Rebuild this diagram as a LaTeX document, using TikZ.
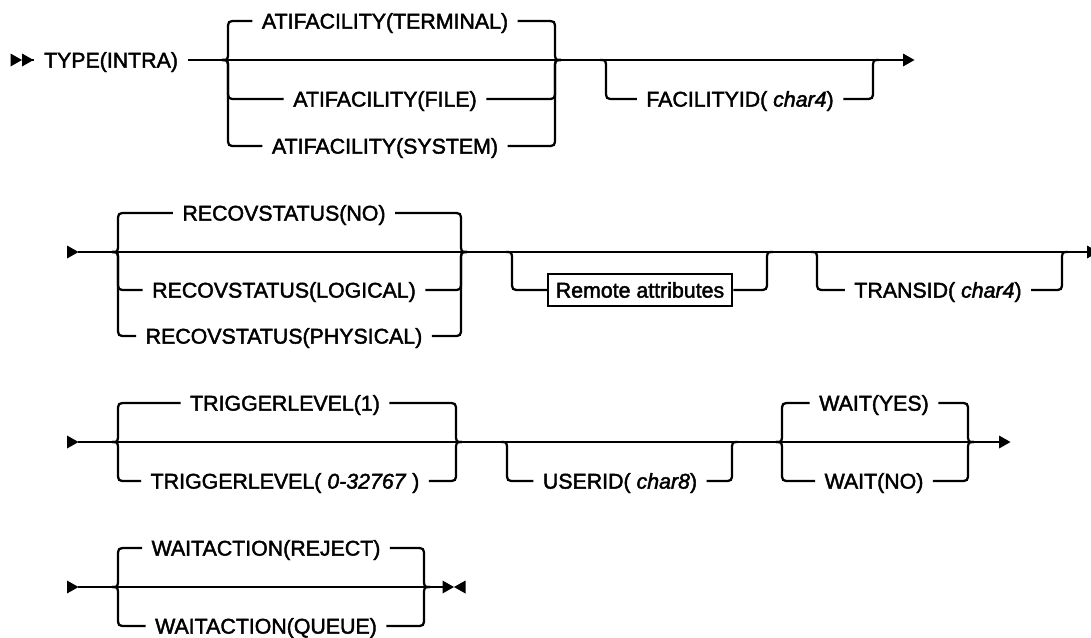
\documentclass[tikz,border=0pt]{standalone}
\usepackage{fontspec}
\setmainfont{Liberation Sans}[FakeBold=2]
% left side of a branch: junction x, main y, branch y, target node
\newcommand\railL[4]{%
  \pgfmathsetmacro\rrs{ifthenelse(#3>#2,1,-1)}%
  \draw[rail] (#1,#2) .. controls ({#1+6},#2) .. ({#1+6},{#2+9*\rrs})
     -- ({#1+6},{#3-9*\rrs}) .. controls ({#1+6},#3) .. ({#1+15},#3) -- (#4.west);}
% right side of a branch: source node, junction x, main y, branch y
\newcommand\railR[4]{%
  \pgfmathsetmacro\rrs{ifthenelse(#4>#3,1,-1)}%
  \draw[rail] (#1.east) -- ({#2-15},#4) .. controls ({#2-6},#4) .. ({#2-6},{#4-9*\rrs})
     -- ({#2-6},{#3+9*\rrs}) .. controls ({#2-6},#3) .. (#2,#3);}
\newcommand\arrR[2]{\fill (#1,{#2-6.5}) -- ({#1+11.5},#2) -- (#1,{#2+6.5}) -- cycle;}
\newcommand\arrL[2]{\fill (#1,#2) -- ({#1+11.5},{#2-6.5}) -- ({#1+11.5},{#2+6.5}) -- cycle;}
\begin{document}
\begin{tikzpicture}[x=0.75pt,y=-0.75pt,
  rail/.style={line width=1.7pt},
  lbl/.style={font=\fontsize{16}{19}\selectfont, inner xsep=7pt, inner ysep=0pt,
              text height=11.4pt, text depth=0pt},
  rbox/.style={lbl, draw, line width=1.6pt, inner xsep=6pt, minimum height=24.5pt}]
\clip (0,0) rectangle (1091,637);

% ---------------- Row 1 ----------------
\arrR{10.5}{60}\arrR{22}{60}
\coordinate (s1) at (30,60);
\node[lbl] (type) at (111,60) {TYPE(INTRA)};
\coordinate (j1a) at (222,60);
\coordinate (j1b) at (561,60);
\coordinate (e1) at (904,60);
\draw[rail] (s1) -- (type.west);
\draw[rail] (type.east) -- (j1a) -- (j1b) -- (e1);
\arrR{903}{60}
\node[lbl] (term) at (385,21) {ATIFACILITY(TERMINAL)};
\node[lbl] (file) at (385,99) {ATIFACILITY(FILE)};
\node[lbl] (sys) at (385,146) {ATIFACILITY(SYSTEM)};
\railL{222}{60}{21}{term}\railR{term}{561}{60}{21}
\railL{222}{60}{99}{file}\railR{file}{561}{60}{99}
\railL{222}{60}{146}{sys}\railR{sys}{561}{60}{146}
\node[lbl] (fac) at (740,99) {FACILITYID( \textit{char4})};
\railL{600}{60}{99}{fac}\railR{fac}{879}{60}{99}

% ---------------- Row 2 ----------------
\arrR{67}{252}
\coordinate (s2) at (78,252);
\coordinate (e2) at (1088,252);
\draw[rail] (s2) -- (e2);
\arrR{1087}{252}
\node[lbl] (rno) at (284,213) {RECOVSTATUS(NO)};
\node[lbl] (rlog) at (284,290) {RECOVSTATUS(LOGICAL)};
\node[lbl] (rphy) at (284,336) {RECOVSTATUS(PHYSICAL)};
\railL{112}{252}{213}{rno}\railR{rno}{467}{252}{213}
\railL{112}{252}{290}{rlog}\railR{rlog}{467}{252}{290}
\railL{112}{252}{336}{rphy}\railR{rphy}{467}{252}{336}
\node[rbox] (remote) at (640,290) {Remote attributes};
\railL{506}{252}{290}{remote}\railR{remote}{773}{252}{290}
\node[lbl] (trans) at (938,290) {TRANSID( \textit{char4})};
\railL{811}{252}{290}{trans}\railR{trans}{1068}{252}{290}

% ---------------- Row 3 ----------------
\arrR{67}{442}
\coordinate (s3) at (78,442);
\coordinate (e3) at (1000,442);
\draw[rail] (s3) -- (e3);
\arrR{999}{442}
\node[lbl] (t1) at (285,403) {TRIGGERLEVEL(1)};
\node[lbl] (t2) at (285,481) {TRIGGERLEVEL( \textit{0-32767} )};
\railL{112}{442}{403}{t1}\railR{t1}{462}{442}{403}
\railL{112}{442}{481}{t2}\railR{t2}{462}{442}{481}
\node[lbl] (uid) at (620,481) {USERID( \textit{char8})};
\railL{501}{442}{481}{uid}\railR{uid}{738}{442}{481}
\node[lbl] (wy) at (874,403) {WAIT(YES)};
\node[lbl] (wn) at (874,481) {WAIT(NO)};
\railL{776}{442}{403}{wy}\railR{wy}{974}{442}{403}
\railL{776}{442}{481}{wn}\railR{wn}{974}{442}{481}

% ---------------- Row 4 ----------------
\arrR{67}{587}
\coordinate (s4) at (78,587);
\coordinate (e4) at (444,587);
\draw[rail] (s4) -- (e4);
\arrR{442.5}{587}\arrL{454}{587}
\node[lbl] (wr) at (266,548) {WAITACTION(REJECT)};
\node[lbl] (wq) at (266,626) {WAITACTION(QUEUE)};
\railL{112}{587}{548}{wr}\railR{wr}{430}{587}{548}
\railL{112}{587}{626}{wq}\railR{wq}{430}{587}{626}
\end{tikzpicture}
\end{document}
